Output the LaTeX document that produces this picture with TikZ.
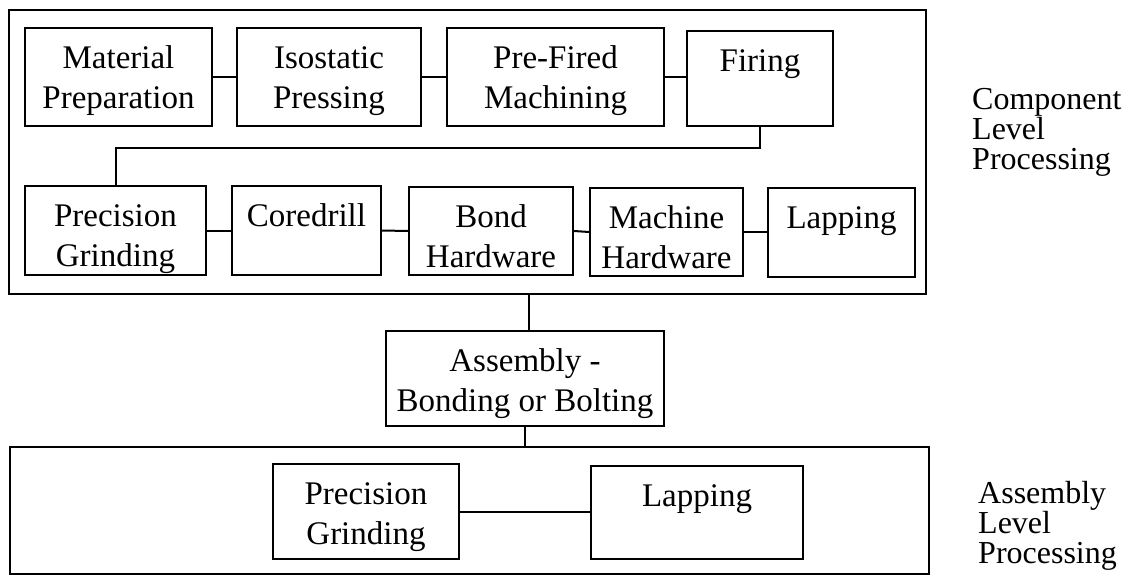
\documentclass[tikz,border=0pt]{standalone}
\usepackage{fontspec}
\setmainfont{Liberation Serif}
\begin{document}
\begin{tikzpicture}[x=1pt,y=-1pt,
  box/.style={draw, line width=2pt, inner sep=0pt, anchor=north west},
  boxtext/.style={align=center, inner sep=0pt, anchor=north, yshift=-13pt,
    font=\fontsize{33}{40}\selectfont},
  frame/.style={draw, line width=2pt, inner sep=0pt, anchor=north west},
  link/.style={line width=2pt},
  side/.style={align=left, inner sep=0pt, anchor=north west,
    font=\fontsize{32}{30}\selectfont}]
\useasboundingbox (0,0) rectangle (1139,575);
% outer frames
\node[frame, minimum width=917pt, minimum height=284pt] (top) at (8,9) {};
\node[frame, minimum width=919pt, minimum height=127pt] (bot) at (9,446) {};
% row 1
\node[box, minimum width=187pt, minimum height=98pt,
  label={[boxtext]north:{\strut Material\\Preparation}}] (mp) at (24,27) {};
\node[box, minimum width=184pt, minimum height=98pt,
  label={[boxtext]north:{\strut Isostatic\\Pressing}}] (ip) at (236,27) {};
\node[box, minimum width=217pt, minimum height=98pt,
  label={[boxtext]north:{\strut Pre-Fired\\Machining}}] (pf) at (446,27) {};
\node[box, minimum width=146pt, minimum height=95pt,
  label={[boxtext]north:{\strut Firing}}] (fi) at (686,30) {};
% row 2
\node[box, minimum width=181pt, minimum height=89pt,
  label={[boxtext]north:{\strut Precision\\Grinding}}] (pg) at (24,185) {};
\node[box, minimum width=149pt, minimum height=89pt,
  label={[boxtext]north:{\strut Coredrill}}] (cd) at (231,185) {};
\node[box, minimum width=164pt, minimum height=88pt,
  label={[boxtext]north:{\strut Bond\\Hardware}}] (bh) at (408,186) {};
\node[box, minimum width=153pt, minimum height=88pt,
  label={[boxtext]north:{\strut Machine\\Hardware}}] (mh) at (589,187) {};
\node[box, minimum width=147pt, minimum height=89pt,
  label={[boxtext]north:{\strut Lapping}}] (la) at (767,187) {};
% assembly
\node[box, minimum width=278pt, minimum height=95pt,
  label={[boxtext]north:{\strut Assembly -\\Bonding or Bolting}}] (as) at (385,330) {};
% bottom row
\node[box, minimum width=186pt, minimum height=95pt,
  label={[boxtext]north:{\strut Precision\\Grinding}}] (pg2) at (272,463) {};
\node[box, minimum width=212pt, minimum height=93pt,
  label={[boxtext]north:{\strut Lapping}}] (la2) at (590,465) {};
% side labels
\node[side] (cl) at (972,88) {Component\\Level\\Processing};
\node[side] (al) at (978,481) {Assembly\\Level\\Processing};
% connectors
\draw[link] (mp.east) -- (ip.west);
\draw[link] (ip.east) -- (pf.west);
\draw[link] (pf.east) -- (pf.east -| fi.west);
\draw[link] (fi.south) -- ++(0,21) -| (pg.north);
\draw[link] (pg.east) -- (cd.west);
\draw[link] (cd.east) -- (bh.west);
\draw[link] (bh.east) -- (mh.west);
\draw[link] (mh.east) -- (mh.east -| la.west);
\draw[link] ([xshift=4pt]as.north) -- ([xshift=4pt]as.north |- top.south);
\draw[link] (as.south) -- (as.south |- bot.north);
\draw[link] (pg2.east) -- (pg2.east -| la2.west);
\end{tikzpicture}
\end{document}
